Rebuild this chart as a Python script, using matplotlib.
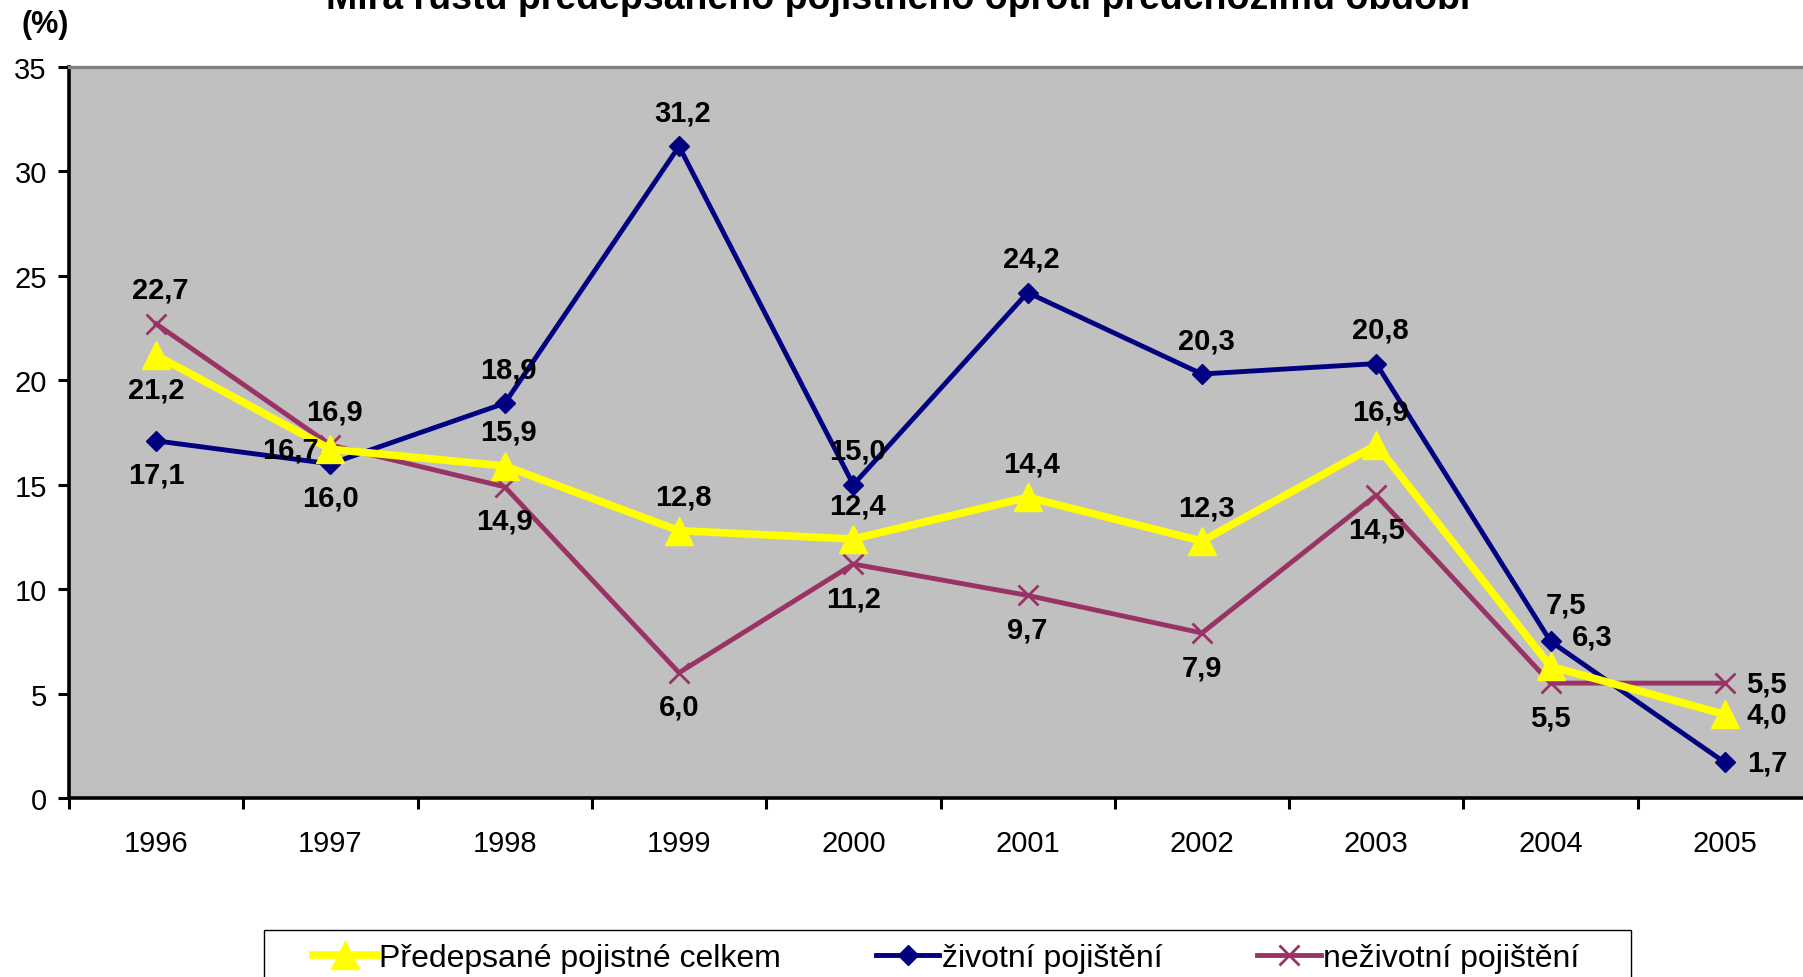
import matplotlib
matplotlib.use("Agg")
import matplotlib.pyplot as plt
from matplotlib.lines import Line2D
from matplotlib.patches import Rectangle
import numpy as np

plt.rcParams['font.family'] = ['Liberation Sans', 'DejaVu Sans']

years = ['1996', '1997', '1998', '1999', '2000', '2001', '2002', '2003', '2004', '2005']
celkem = [21.2, 16.7, 15.9, 12.8, 12.4, 14.4, 12.3, 16.9, 6.3, 4.0]
zivotni = [17.1, 16.0, 18.9, 31.2, 15.0, 24.2, 20.3, 20.8, 7.5, 1.7]
nezivotni = [22.7, 16.9, 14.9, 6.0, 11.2, 9.7, 7.9, 14.5, 5.5, 5.5]

series_names = ['Předepsané pojistné celkem', 'životní pojištění', 'neživotní pojištění']
title = 'Míra růstu předepsaného pojistného oproti předchozímu období'

W, H = 1803, 978
fig = plt.figure(figsize=(W / 100, H / 100), dpi=100)
ax = fig.add_axes([69 / W, 1 - 799 / H, 1743 / W, 731 / H])
ax.set_facecolor('#C0C0C0')

x = np.arange(len(years))
YEL, NAVY, PURP = '#FFFF00', '#000080', '#993366'

ax.plot(x, zivotni, color=NAVY, lw=3.5, marker='D', ms=10.5, zorder=3)
ax.plot(x, nezivotni, color=PURP, lw=3.5, marker='x', ms=15, mew=2, zorder=3)
ax.plot(x, celkem, color=YEL, lw=5.5, marker='^', ms=20, zorder=4)

ax.set_xlim(-0.5, 9.5)
ax.set_ylim(0, 35)
ax.set_yticks(np.arange(0, 36, 5))
ax.set_xticks(x)
ax.set_xticklabels(years)
ax.set_xticks(np.arange(-0.5, 10, 1), minor=True)
ax.tick_params(axis='x', which='major', length=0, pad=22, labelsize=21)
ax.tick_params(axis='x', which='minor', length=8, width=2.2, direction='out')
ax.tick_params(axis='y', length=8, width=2.2, direction='out', pad=8, labelsize=21)

for s in ['left', 'bottom']:
    ax.spines[s].set_linewidth(2.6)
    ax.spines[s].set_color('black')
ax.spines['top'].set_color('#808080')
ax.spines['top'].set_linewidth(2.4)
ax.spines['right'].set_visible(False)

# label offsets (pixels): above, below, left, right
A, B = (4, 34), (0, -34)
L, R = (-40, 0), (42, 0)
off_cel = [B, L, A, A, A, A, A, A, (42, 30), R]
off_ziv = [B, B, A, A, A, A, A, A, (15, 37), R]
off_nez = [A, A, B, B, B, B, B, B, B, R]

def fmt(v):
    return f'{v:.1f}'.replace('.', ',')

for vals, offs in [(celkem, off_cel), (zivotni, off_ziv), (nezivotni, off_nez)]:
    for xi, v, o in zip(x, vals, offs):
        ax.annotate(fmt(v), (xi, v), xytext=o, textcoords='offset pixels',
                    ha='center', va='center', fontsize=21, fontweight='bold',
                    zorder=5)

# (%) label and title
fig.text(45 / W, 1 - 25 / H, '(%)', ha='center', va='center', fontsize=22, fontweight='bold')
fig.text(898 / W, 1 - 9 / H, title, ha='center', va='baseline', fontsize=27, fontweight='bold')

# legend box
fig.patches.append(Rectangle((264 / W, -0.05), (1631 - 264) / W, 0.05 + (1 - 931 / H),
                             transform=fig.transFigure, facecolor='white',
                             edgecolor='black', lw=1, zorder=0))
handles = [
    Line2D([], [], color=YEL, lw=5.5, marker='^', ms=20),
    Line2D([], [], color=NAVY, lw=3.5, marker='D', ms=10.5),
    Line2D([], [], color=PURP, lw=3.5, marker='x', ms=15, mew=2),
]
fig.legend(handles, series_names, loc='center left',
           bbox_to_anchor=(313 / W, 1 - 959 / H), ncol=3, frameon=False,
           fontsize=23, handlelength=2.0, handletextpad=0.08, columnspacing=2.95,
           borderaxespad=0, borderpad=0)

fig.savefig('out.png', dpi=100)
